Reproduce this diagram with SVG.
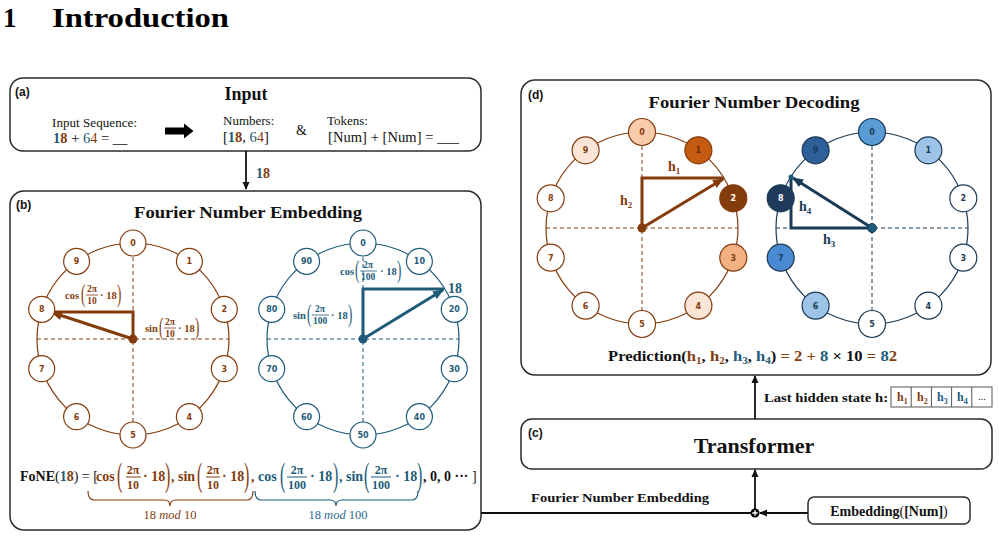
<svg xmlns="http://www.w3.org/2000/svg" width="999" height="538" viewBox="0 0 999 538">
<defs>
<style>
.box{fill:#fff;stroke:#2b2b2b;stroke-width:1.5}
.sans{font-family:"Liberation Sans",Arial,sans-serif;font-weight:bold}
.s{font-family:"Liberation Serif","Times New Roman",serif}
.b{font-weight:bold}
.br{fill:#843C0C}.bl{fill:#1D5B79}.nv{fill:#1B3A55}.k{fill:#111}
.mid{text-anchor:middle}
.ring{fill:none;stroke-width:1.2}
.dash{fill:none;stroke-width:1;stroke-dasharray:4 3}
.nb circle{fill:#fff;stroke:#843C0C;stroke-width:1.2}
.nu circle{fill:#fff;stroke:#1D5B79;stroke-width:1.2}
.nn circle{fill:#fff;stroke:#1B3A55;stroke-width:1.2}
.nt{font-family:"DejaVu Sans",sans-serif;font-size:8px;font-weight:bold;text-anchor:middle}
.tri{fill:none;stroke-width:3;stroke-linejoin:miter}
.eq{font-family:"Liberation Serif","Times New Roman",serif;font-weight:bold;font-size:10.5px}
.fr{font-family:"Liberation Serif","Times New Roman",serif;font-weight:bold;font-size:9.5px;text-anchor:middle}
.par{font-family:"Liberation Serif","Times New Roman",serif;font-size:13px}
.eq2{font-family:"Liberation Serif","Times New Roman",serif;font-weight:bold;font-size:14px}
.fr2{font-family:"Liberation Serif","Times New Roman",serif;font-weight:bold;font-size:12px;text-anchor:middle}
.par2{font-family:"Liberation Serif","Times New Roman",serif;font-size:16px}
.conn{fill:none;stroke:#111;stroke-width:1.8}
</style>
<marker id="ak" markerUnits="userSpaceOnUse" markerWidth="8" markerHeight="8" refX="7" refY="4" orient="auto"><path d="M0,0.5 L8,4 L0,7.5 z" fill="#111"/></marker>
<marker id="abr" markerUnits="userSpaceOnUse" markerWidth="11" markerHeight="9" refX="10" refY="4.5" orient="auto"><path d="M0,0 L11,4.5 L0,9 z" fill="#843C0C"/></marker>
<marker id="abl" markerUnits="userSpaceOnUse" markerWidth="11" markerHeight="9" refX="10" refY="4.5" orient="auto"><path d="M0,0 L11,4.5 L0,9 z" fill="#1D5B79"/></marker>
<marker id="anv" markerUnits="userSpaceOnUse" markerWidth="11" markerHeight="9" refX="10" refY="4.5" orient="auto"><path d="M0,0 L11,4.5 L0,9 z" fill="#1B3A55"/></marker>
</defs>
<rect width="999" height="538" fill="#fff"/>

<!-- heading -->
<g id="heading">
<text x="3" y="27" class="s b" font-size="27" fill="#000">1</text>
<text x="52" y="27" class="s b" font-size="27" fill="#000" textLength="177" lengthAdjust="spacingAndGlyphs">Introduction</text>
</g>

<!-- (a) Input -->
<g id="box-a">
<rect class="box" x="10" y="78" width="471" height="73" rx="13"/>
<text x="15" y="96" class="sans" font-size="12" fill="#111">(a)</text>
<text x="246" y="100" class="s b mid" font-size="18" fill="#111">Input</text>
<text x="52" y="127" class="s" font-size="13" fill="#111" textLength="85">Input Sequence:</text>
<text x="53" y="143" class="s" font-size="14.5" fill="#111"><tspan class="b bl">1</tspan><tspan class="b br">8</tspan> + <tspan class="bl">6</tspan><tspan class="br">4</tspan> =  __</text>
<path d="M165,127.5 H184 V123.5 L193.5,131 L184,138.5 V134.5 H165 z" fill="#000"/>
<text x="223" y="125" class="s" font-size="13" fill="#111">Numbers:</text>
<text x="223" y="142" class="s" font-size="14.5" fill="#111">[<tspan class="b bl">1</tspan><tspan class="b br">8</tspan>, <tspan class="bl">6</tspan><tspan class="br">4</tspan>]</text>
<text x="296" y="135" class="s" font-size="14" fill="#111">&amp;</text>
<text x="327" y="125" class="s" font-size="13" fill="#111">Tokens:</text>
<text x="328" y="142" class="s" font-size="14.5" fill="#111" textLength="131">[Num] + [Num] =  ___</text>
</g>

<!-- (b) Fourier Number Embedding -->
<g id="box-b">
<rect class="box" x="10" y="191" width="471" height="339" rx="14"/>
<text x="16" y="209" class="sans" font-size="12" fill="#111">(b)</text>
<text x="248" y="218" class="s b mid" font-size="17" fill="#111" textLength="228" lengthAdjust="spacingAndGlyphs">Fourier Number Embedding</text>
</g>

<!-- left circle mod 10 -->
<g id="circle-mod10">
<circle class="ring" cx="133" cy="339" r="96" stroke="#843C0C"/>
<path class="dash" d="M37,339 H229 M133,243 V435" stroke="#843C0C"/>
<path class="tri" d="M133,339 V312 H50" stroke="#843C0C"/>
<line x1="133" y1="339" x2="52" y2="312.5" stroke="#843C0C" stroke-width="3" marker-end="url(#abr)"/>
<circle cx="133" cy="339" r="4.5" fill="#843C0C"/>
<circle cx="50" cy="312" r="2" fill="#1D5B79"/>
</g>
<g id="n10-0" class="nb"><circle cx="133" cy="243" r="13"/><text class="nt br" x="133" y="246">0</text></g>
<g id="n10-1" class="nb"><circle cx="189.4" cy="261.3" r="13"/><text class="nt br" x="189.4" y="264.3">1</text></g>
<g id="n10-2" class="nb"><circle cx="224.3" cy="309.3" r="13"/><text class="nt br" x="224.3" y="312.3">2</text></g>
<g id="n10-3" class="nb"><circle cx="224.3" cy="368.7" r="13"/><text class="nt br" x="224.3" y="371.7">3</text></g>
<g id="n10-4" class="nb"><circle cx="189.4" cy="416.7" r="13"/><text class="nt br" x="189.4" y="419.7">4</text></g>
<g id="n10-5" class="nb"><circle cx="133" cy="435" r="13"/><text class="nt br" x="133" y="438">5</text></g>
<g id="n10-6" class="nb"><circle cx="76.6" cy="416.7" r="13"/><text class="nt br" x="76.6" y="419.7">6</text></g>
<g id="n10-7" class="nb"><circle cx="41.7" cy="368.7" r="13"/><text class="nt br" x="41.7" y="371.7">7</text></g>
<g id="n10-8" class="nb"><circle cx="41.7" cy="309.3" r="13"/><text class="nt br" x="41.7" y="312.3">8</text></g>
<g id="n10-9" class="nb"><circle cx="76.6" cy="261.3" r="13"/><text class="nt br" x="76.6" y="264.3">9</text></g>
<g id="lbl-cos10" class="br">
<text class="eq" x="65" y="299">cos</text>
<text class="par" transform="translate(81,301.6) scale(1,2)">(</text>
<text class="fr" x="92" y="292">2π</text>
<line x1="86" y1="295" x2="98" y2="295" stroke="#843C0C" stroke-width="0.8"/>
<text class="fr" x="92" y="304">10</text>
<text class="eq" x="100" y="299">· 18</text>
<text class="par" transform="translate(117,301.6) scale(1,2)">)</text>
</g>
<g id="lbl-sin10" class="br">
<text class="eq" x="145" y="332">sin</text>
<text class="par" transform="translate(159,334.6) scale(1,2)">(</text>
<text class="fr" x="170" y="325">2π</text>
<line x1="164" y1="328" x2="176" y2="328" stroke="#843C0C" stroke-width="0.8"/>
<text class="fr" x="170" y="337">10</text>
<text class="eq" x="178" y="332">· 18</text>
<text class="par" transform="translate(195,334.6) scale(1,2)">)</text>
</g>

<!-- right circle mod 100 -->
<g id="circle-mod100">
<circle class="ring" cx="363" cy="339" r="96" stroke="#1D5B79"/>
<path class="dash" d="M267,339 H459 M363,243 V435" stroke="#1D5B79"/>
<path class="tri" d="M363,339 V289 H444" stroke="#1D5B79"/>
<line x1="363" y1="339" x2="443" y2="290" stroke="#1D5B79" stroke-width="3" marker-end="url(#abl)"/>
<circle cx="363" cy="339" r="4.5" fill="#1D5B79"/>
<text x="448" y="293" class="s b bl" font-size="14">18</text>
</g>
<g id="n100-0" class="nu"><circle cx="363" cy="243" r="13"/><text class="nt bl" x="363" y="246">0</text></g>
<g id="n100-10" class="nu"><circle cx="419.4" cy="261.3" r="13"/><text class="nt bl" x="419.4" y="264.3">10</text></g>
<g id="n100-20" class="nu"><circle cx="454.3" cy="309.3" r="13"/><text class="nt bl" x="454.3" y="312.3">20</text></g>
<g id="n100-30" class="nu"><circle cx="454.3" cy="368.7" r="13"/><text class="nt bl" x="454.3" y="371.7">30</text></g>
<g id="n100-40" class="nu"><circle cx="419.4" cy="416.7" r="13"/><text class="nt bl" x="419.4" y="419.7">40</text></g>
<g id="n100-50" class="nu"><circle cx="363" cy="435" r="13"/><text class="nt bl" x="363" y="438">50</text></g>
<g id="n100-60" class="nu"><circle cx="306.6" cy="416.7" r="13"/><text class="nt bl" x="306.6" y="419.7">60</text></g>
<g id="n100-70" class="nu"><circle cx="271.7" cy="368.7" r="13"/><text class="nt bl" x="271.7" y="371.7">70</text></g>
<g id="n100-80" class="nu"><circle cx="271.7" cy="309.3" r="13"/><text class="nt bl" x="271.7" y="312.3">80</text></g>
<g id="n100-90" class="nu"><circle cx="306.6" cy="261.3" r="13"/><text class="nt bl" x="306.6" y="264.3">90</text></g>
<g id="lbl-cos100" class="bl">
<text class="eq" x="340" y="275">cos</text>
<text class="par" transform="translate(355,277.6) scale(1,2)">(</text>
<text class="fr" x="368" y="268">2π</text>
<line x1="360" y1="271" x2="377" y2="271" stroke="#1D5B79" stroke-width="0.8"/>
<text class="fr" x="368" y="280">100</text>
<text class="eq" x="380" y="275">· 18</text>
<text class="par" transform="translate(397,277.6) scale(1,2)">)</text>
</g>
<g id="lbl-sin100" class="bl">
<text class="eq" x="293" y="319">sin</text>
<text class="par" transform="translate(307,321.6) scale(1,2)">(</text>
<text class="fr" x="320" y="312">2π</text>
<line x1="312" y1="315" x2="329" y2="315" stroke="#1D5B79" stroke-width="0.8"/>
<text class="fr" x="320" y="324">100</text>
<text class="eq" x="331" y="319">· 18</text>
<text class="par" transform="translate(348,321.6) scale(1,2)">)</text>
</g>

<!-- FoNE formula -->
<g id="fone-formula">
<text class="eq2" x="20" y="481" font-size="12" fill="#111">FoNE<tspan font-weight="normal">(</tspan><tspan class="bl">1</tspan><tspan class="br">8</tspan><tspan font-weight="normal">) = [</tspan></text>
<g class="br">
<text class="eq2" x="96" y="481">cos</text>
<text class="par2" transform="translate(117,485.6) scale(1,2.1)">(</text>
<text class="fr2" x="133" y="474">2π</text>
<line x1="126" y1="477" x2="141" y2="477" stroke="#843C0C" stroke-width="1"/>
<text class="fr2" x="133" y="489">10</text>
<text class="eq2" x="143" y="481">· 18</text>
<text class="par2" transform="translate(165,485.6) scale(1,2.1)">)</text>
<text class="eq2" x="171" y="481">,</text>
<text class="eq2" x="178" y="481">sin</text>
<text class="par2" transform="translate(197,485.6) scale(1,2.1)">(</text>
<text class="fr2" x="213" y="474">2π</text>
<line x1="206" y1="477" x2="220" y2="477" stroke="#843C0C" stroke-width="1"/>
<text class="fr2" x="213" y="489">10</text>
<text class="eq2" x="222" y="481">· 18</text>
<text class="par2" transform="translate(244,485.6) scale(1,2.1)">)</text>
<text class="eq2" x="251" y="481">,</text>
</g>
<g class="bl">
<text class="eq2" x="258" y="481">cos</text>
<text class="par2" transform="translate(280,485.6) scale(1,2.1)">(</text>
<text class="fr2" x="297" y="474">2π</text>
<line x1="287" y1="477" x2="307" y2="477" stroke="#1D5B79" stroke-width="1"/>
<text class="fr2" x="297" y="489">100</text>
<text class="eq2" x="310" y="481">· 18</text>
<text class="par2" transform="translate(333,485.6) scale(1,2.1)">)</text>
<text class="eq2" x="339" y="481">,</text>
<text class="eq2" x="346" y="481">sin</text>
<text class="par2" transform="translate(364,485.6) scale(1,2.1)">(</text>
<text class="fr2" x="381" y="474">2π</text>
<line x1="371" y1="477" x2="391" y2="477" stroke="#1D5B79" stroke-width="1"/>
<text class="fr2" x="381" y="489">100</text>
<text class="eq2" x="395" y="481">· 18</text>
<text class="par2" transform="translate(417,485.6) scale(1,2.1)">)</text>
</g>
<text class="eq2" x="423" y="481" fill="#111">, 0, 0 ··· <tspan font-weight="normal">]</tspan></text>
<path d="M88,491 Q88,500 94,500 H164 Q170,500 170,506 Q170,500 176,500 H247 Q253,500 253,491" fill="none" stroke="#843C0C" stroke-width="1.2"/>
<path d="M255,491 Q255,500 261,500 H330 Q336,500 336,506 Q336,500 342,500 H412 Q418,500 418,491" fill="none" stroke="#1D5B79" stroke-width="1.2"/>
<text x="170" y="519" class="s mid br" font-size="12.5">18 <tspan font-style="italic">mod</tspan> 10</text>
<text x="338" y="519" class="s mid" font-size="12.5" fill="#2A6A8E">18 <tspan font-style="italic">mod</tspan> 100</text>
</g>

<!-- (d) Fourier Number Decoding -->
<g id="box-d">
<rect class="box" x="521" y="80" width="470" height="295" rx="14"/>
<text x="528" y="99" class="sans" font-size="12" fill="#111">(d)</text>
<text x="754" y="108" class="s b mid" font-size="17" fill="#111" textLength="211" lengthAdjust="spacingAndGlyphs">Fourier Number Decoding</text>
<text x="608" y="361" class="s b" font-size="15" fill="#111" textLength="289" lengthAdjust="spacingAndGlyphs">Prediction(<tspan class="br">h</tspan><tspan class="br" font-size="10" dy="3">1</tspan><tspan dy="-3">, </tspan><tspan class="br">h</tspan><tspan class="br" font-size="10" dy="3">2</tspan><tspan dy="-3">, </tspan><tspan class="bl">h</tspan><tspan class="bl" font-size="10" dy="3">3</tspan><tspan dy="-3">, </tspan><tspan class="bl">h</tspan><tspan class="bl" font-size="10" dy="3">4</tspan><tspan dy="-3">) </tspan><tspan class="br">= 2 + </tspan><tspan class="bl">8</tspan> × 10 <tspan class="br">= </tspan><tspan class="bl">8</tspan><tspan class="br">2</tspan></text>
</g>

<g id="decode-mod10">
<circle class="ring" cx="642" cy="228" r="96" stroke="#843C0C"/>
<path class="dash" d="M546,228 H738 M642,132 V324" stroke="#843C0C"/>
<path class="tri" d="M642,228 V178 H724" stroke="#843C0C"/>
<line x1="642" y1="228" x2="723" y2="179" stroke="#843C0C" stroke-width="3" marker-end="url(#abr)"/>
<circle cx="642" cy="228" r="4.5" fill="#843C0C"/>
<text x="668" y="171" class="s b br" font-size="14">h<tspan font-size="9" dy="3">1</tspan></text>
<text x="620" y="205" class="s b br" font-size="14">h<tspan font-size="9" dy="3">2</tspan></text>
</g>
<g id="d10-0" class="nb"><circle cx="642" cy="132" r="13.5" style="fill:#F8CBAD"/><text class="nt br" x="642" y="135">0</text></g>
<g id="d10-1" class="nb"><circle cx="698.4" cy="150.3" r="13.5" style="fill:#C55A11"/><text class="nt" x="698.4" y="153.3" fill="#6b2a06">1</text></g>
<g id="d10-2" class="nb"><circle cx="733.3" cy="198.3" r="13.5" style="fill:#843C0C"/><text class="nt" x="733.3" y="201.3" fill="#fff">2</text></g>
<g id="d10-3" class="nb"><circle cx="733.3" cy="257.7" r="13.5" style="fill:#F4B183"/><text class="nt br" x="733.3" y="260.7">3</text></g>
<g id="d10-4" class="nb"><circle cx="698.4" cy="305.7" r="13.5" style="fill:#FBE5D6"/><text class="nt br" x="698.4" y="308.7">4</text></g>
<g id="d10-5" class="nb"><circle cx="642" cy="324" r="13.5"/><text class="nt br" x="642" y="327">5</text></g>
<g id="d10-6" class="nb"><circle cx="585.6" cy="305.7" r="13.5"/><text class="nt br" x="585.6" y="308.7">6</text></g>
<g id="d10-7" class="nb"><circle cx="550.7" cy="257.7" r="13.5"/><text class="nt br" x="550.7" y="260.7">7</text></g>
<g id="d10-8" class="nb"><circle cx="550.7" cy="198.3" r="13.5"/><text class="nt br" x="550.7" y="201.3">8</text></g>
<g id="d10-9" class="nb"><circle cx="585.6" cy="150.3" r="13.5" style="fill:#FBE5D6"/><text class="nt br" x="585.6" y="153.3">9</text></g>

<g id="decode-mod100">
<circle class="ring" cx="872" cy="228" r="96" stroke="#1B3A55"/>
<path class="dash" d="M776,228 H968 M872,132 V324" stroke="#1B3A55"/>
<path class="tri" d="M872,228 H791 V177" stroke="#1B3A55"/>
<line x1="872" y1="228" x2="793" y2="178" stroke="#1B3A55" stroke-width="3" marker-end="url(#anv)"/>
<circle cx="872" cy="228" r="4.5" fill="#1D5B79" stroke="#1B3A55" stroke-width="1"/>
<circle cx="791" cy="177" r="2.5" fill="#1D5B79"/>
<text x="799" y="211" class="s b nv" font-size="14">h<tspan font-size="9" dy="3">4</tspan></text>
<text x="823" y="244" class="s b nv" font-size="14">h<tspan font-size="9" dy="3">3</tspan></text>
</g>
<g id="d100-0" class="nn"><circle cx="872" cy="132" r="13.5" style="fill:#5B9BD5"/><text class="nt nv" x="872" y="135">0</text></g>
<g id="d100-1" class="nn"><circle cx="928.4" cy="150.3" r="13.5" style="fill:#9DC3E6"/><text class="nt nv" x="928.4" y="153.3">1</text></g>
<g id="d100-2" class="nn"><circle cx="963.3" cy="198.3" r="13.5"/><text class="nt nv" x="963.3" y="201.3">2</text></g>
<g id="d100-3" class="nn"><circle cx="963.3" cy="257.7" r="13.5"/><text class="nt nv" x="963.3" y="260.7">3</text></g>
<g id="d100-4" class="nn"><circle cx="928.4" cy="305.7" r="13.5"/><text class="nt nv" x="928.4" y="308.7">4</text></g>
<g id="d100-5" class="nn"><circle cx="872" cy="324" r="13.5"/><text class="nt nv" x="872" y="327">5</text></g>
<g id="d100-6" class="nn"><circle cx="815.6" cy="305.7" r="13.5" style="fill:#9DC3E6"/><text class="nt nv" x="815.6" y="308.7">6</text></g>
<g id="d100-7" class="nn"><circle cx="780.7" cy="257.7" r="13.5" style="fill:#4A8AD2"/><text class="nt nv" x="780.7" y="260.7">7</text></g>
<g id="d100-8" class="nn"><circle cx="780.7" cy="198.3" r="13.5" style="fill:#1F3B5C"/><text class="nt" x="780.7" y="201.3" fill="#fff">8</text></g>
<g id="d100-9" class="nn"><circle cx="815.6" cy="150.3" r="13.5" style="fill:#2D5F99"/><text class="nt nv" x="815.6" y="153.3">9</text></g>

<!-- hidden state table -->
<g id="hidden-state">
<text x="764" y="402" class="s b" font-size="12.5" fill="#111" textLength="124" lengthAdjust="spacingAndGlyphs">Last hidden state h:</text>
<rect x="891" y="387" width="101" height="20" fill="#fff" stroke="#555" stroke-width="1"/>
<path d="M911.2,387 V407 M931.4,387 V407 M951.6,387 V407 M971.8,387 V407" stroke="#555" stroke-width="1"/>
<text x="897" y="401" class="s b br" font-size="12">h<tspan font-size="8" dy="2.5">1</tspan></text>
<text x="917" y="401" class="s b br" font-size="12">h<tspan font-size="8" dy="2.5">2</tspan></text>
<text x="937" y="401" class="s b bl" font-size="12">h<tspan font-size="8" dy="2.5">3</tspan></text>
<text x="957" y="401" class="s b bl" font-size="12">h<tspan font-size="8" dy="2.5">4</tspan></text>
<text x="982" y="400" class="s mid" font-size="10" fill="#111">...</text>
</g>

<!-- (c) Transformer -->
<g id="box-c">
<rect class="box" x="521" y="419" width="471" height="50" rx="11"/>
<text x="528" y="437" class="sans" font-size="12" fill="#111">(c)</text>
<text x="754" y="453" class="s b mid" font-size="22" fill="#111">Transformer</text>
</g>

<!-- Embedding box -->
<g id="embedding">
<rect class="box" x="808" y="497" width="162" height="27" rx="6"/>
<text x="889" y="516" class="s mid" font-size="14" fill="#111"><tspan font-weight="bold">Embedding</tspan>(<tspan font-weight="bold">[Num]</tspan>)</text>
</g>

<!-- connectors -->
<g id="connectors">
<line class="conn" x1="246" y1="151" x2="246" y2="189" marker-end="url(#ak)"/>
<text x="256" y="178" class="s b" font-size="14"><tspan class="bl">1</tspan><tspan class="br">8</tspan></text>
<line class="conn" x1="481" y1="513" x2="751" y2="513"/>
<line class="conn" x1="808" y1="513" x2="760" y2="513" marker-end="url(#ak)"/>
<line class="conn" x1="755" y1="509" x2="755" y2="470" marker-end="url(#ak)"/>
<line class="conn" x1="755" y1="419" x2="755" y2="376" marker-end="url(#ak)"/>
<circle cx="755" cy="513" r="4.5" fill="#000"/>
<path d="M752.3,513 H757.7 M755,510.3 V515.7" stroke="#fff" stroke-width="1.3"/>
<text x="531" y="502" class="s b" font-size="13" fill="#111" textLength="178" lengthAdjust="spacingAndGlyphs">Fourier Number Embedding</text>
</g>
</svg>
